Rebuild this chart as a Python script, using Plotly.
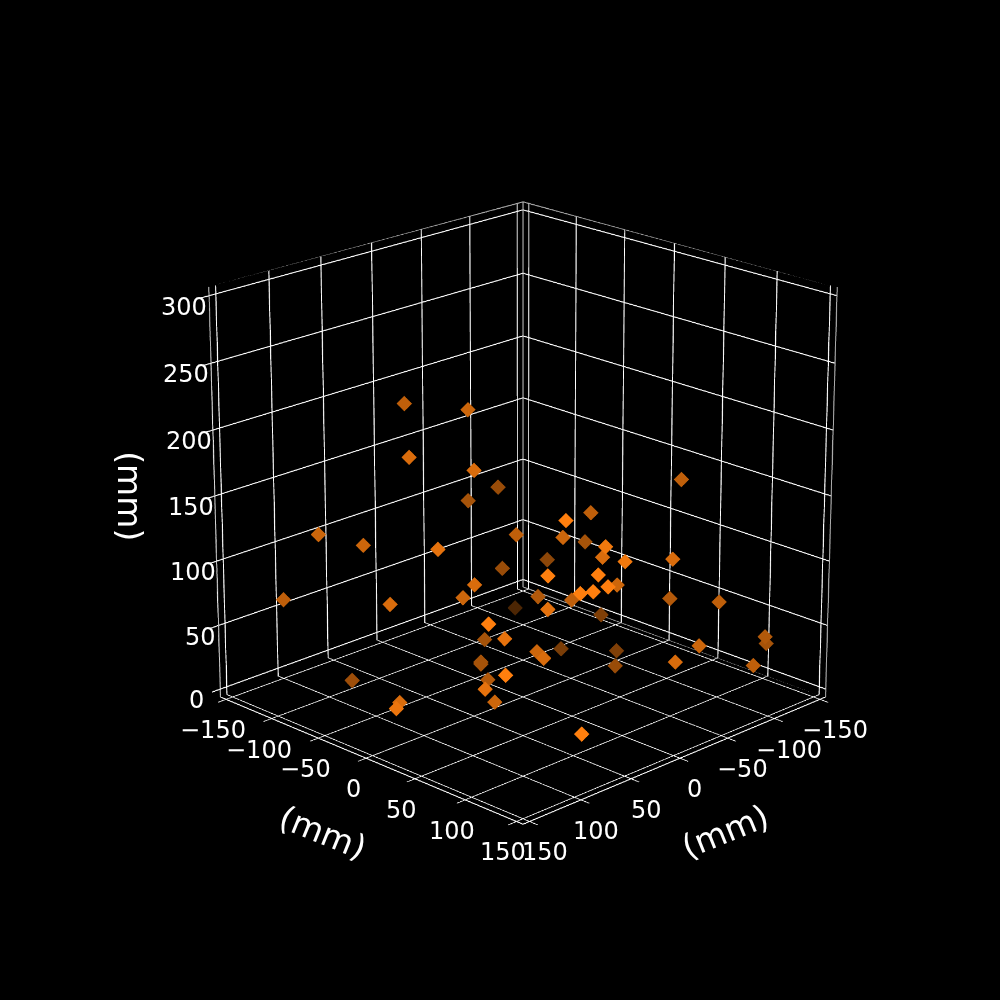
import numpy as np
import plotly.graph_objs as go

# marker positions (mm)
xs = [90.0, 74.0, 118.2, 86.5, 27.9, -2.8, -47.5, 148.4, 126.3, 119.7, 34.7, 88.9, -2.5, 27.2, -31.5,
      53.9, 23.4, 44.4, -11.2, -43.7, -4.9, 97.5, 73.3, 150.0, 86.5, 76.9, 8.1, 81.8, 75.7, 67.1,
      0.1, 6.9, -58.8, -67.4, 128.4, -105.0, 66.0, -87.8, 126.1, 19.8, 87.3, -107.6, -124.9, -73.5, -96.1,
      40.0, 52.3, 21.8, 21.8, -63.4, -13.2, -41.3, -85.3, 117.9, 33.7, 97.0, 78.7, 124.2, 148.5, 61.2, 80.8]
ys = [-27.5, 19.8, 6.8, 38.5, -27.9, -28.5, 110.0, -54.7, -32.5, 36.5, 27.8, 129.8, 65.0, 66.6, 31.5,
      133.6, 101.6, 143.1, 136.2, -18.8, -26.4, 121.3, 145.5, -91.5, 38.5, 16.8, 23.1, 136.9, 143.1, 148.9,
      93.7, 55.7, 90.1, 129.9, -3.4, -113.8, 90.2, -6.0, 92.7, -19.8, 69.0, 138.8, 124.9, -33.5, 2.3,
      53.8, 72.7, -21.8, -21.8, 32.1, 138.2, 135.1, 147.8, 100.8, -2.4, 59.3, -98.7, 0.9, 23.4, 32.6, 137.9]
zs = [234.9, 237.9, 210.7, 201.1, 146.5, 148.8, 178.5, 145.4, 137.3, 151.1, 137.0, 188.7, 153.6, 143.3, 115.0,
      161.4, 136.8, 150.5, 135.4, 84.3, 86.0, 148.6, 149.3, 86.5, 116.2, 97.8, 81.3, 135.7, 137.0, 139.8,
      107.5, 87.4, 79.8, 85.9, 101.5, 2.5, 106.5, 32.0, 113.3, 39.1, 84.5, 50.2, 36.0, 1.0, 3.2,
      56.7, 60.8, 21.4, 19.9, 9.3, 57.9, 61.2, 37.0, 75.4, 16.7, 46.5, 1.0, 27.0, 36.5, 18.0, 31.5]
xy_ticks = [-150, -100, -50, 0, 50, 100, 150]
z_ticks = [0, 50, 100, 150, 200, 250, 300]
axis_title = "(mm)"

# the box sticks out 1/48 of the range past the outer ticks on every side
lim = 156.25
z_lo, z_hi = -6.25, 306.25

# depth shading: markers further from the camera fade into the black background
depth = (np.array(xs) + np.array(ys)) / 312.5
alpha = np.clip(0.3 + (depth + 0.7) / 2, 0.3, 1.0)
colors = [f"rgb({255 * a:.0f},{127 * a:.0f},{14 * a:.0f})" for a in alpha]


def axis(ticks, rng):
    return dict(title=dict(text=""),
                range=rng, tickmode="array", tickvals=ticks, showticklabels=False,
                showbackground=True, backgroundcolor="black",
                gridcolor="white", gridwidth=2, zeroline=False,
                showline=True, linecolor="white", linewidth=2,
                ticks="outside", ticklen=8, tickcolor="white", tickwidth=2,
                showspikes=False)


def note(x, y, z, text, dx, dy, size=24, angle=0):
    # scene annotations can be rotated and offset, gl3d axis labels cannot
    return dict(x=x, y=y, z=z, text=text, textangle=angle, showarrow=False,
                xshift=dx, yshift=dy, font=dict(size=size, color="white"))


def tick_text(v):
    return str(v).replace("-", "\u2212")


notes = [note(lim, -50, z_lo, axis_title, 5, -94, size=33, angle=22),
         note(-50, lim, z_lo, axis_title, -3, -93, size=33, angle=-22),
         note(lim, -lim, 150, axis_title, -86, 0, size=33, angle=90)]
for v in xy_ticks:
    notes.append(note(lim, v, z_lo, tick_text(v), -13, -31))
    notes.append(note(v, lim, z_lo, tick_text(v), 15, -31))
for v, dx in zip(z_ticks, [-24, -18, -24, -24, -24, -25, -25]):
    notes.append(note(lim, -lim, v, tick_text(v), dx, -11))

fig = go.Figure()
# grey outline of the three back panes
fig.add_trace(go.Scatter3d(x=[lim, -lim, -lim, None, lim, -lim, -lim, None, lim, lim, None, -lim, -lim, None, -lim, -lim],
                           y=[-lim, -lim, lim, None, -lim, -lim, lim, None, -lim, -lim, None, -lim, -lim, None, lim, lim],
                           z=[z_lo, z_lo, z_lo, None, z_hi, z_hi, z_hi, None, z_lo, z_hi, None, z_lo, z_hi, None, z_lo, z_hi],
                           mode="lines", line=dict(color="rgb(170,170,170)", width=2), hoverinfo="skip"))
fig.add_trace(go.Scatter3d(x=xs, y=ys, z=zs, mode="markers",
                           marker=dict(symbol="diamond", size=4.5, color=colors, line=dict(width=0))))

# plotly's field of view is fixed, so a large page gives the weak perspective of the original
size = 3250
fig.update_layout(width=size, height=size, margin=dict(l=0, r=0, t=0, b=0),
                  paper_bgcolor="black", showlegend=False,
                  font=dict(family="DejaVu Sans", color="white"),
                  scene=dict(xaxis=axis(xy_ticks, [-lim, lim]),
                             yaxis=axis(xy_ticks, [-lim, lim]),
                             zaxis=axis(z_ticks, [z_lo, z_hi]),
                             aspectmode="manual",
                             aspectratio=dict(x=1, y=1, z=1.0),
                             camera=dict(eye=dict(x=5.98, y=5.98, z=3.078),
                                         up=dict(x=0, y=0, z=1),
                                         center=dict(x=0, y=0, z=0)),
                             annotations=notes))

shift = f"""
var gd = document.getElementById('{{plot_id}}');
document.documentElement.style.background = 'black';
document.body.style.cssText = 'margin:0;overflow:hidden;background:black';
gd.style.position = 'fixed';
gd.style.left = '{523 - size // 2}px';
gd.style.top = '{496 - size // 2}px';
"""
fig.write_html("out.html", post_script=shift)
